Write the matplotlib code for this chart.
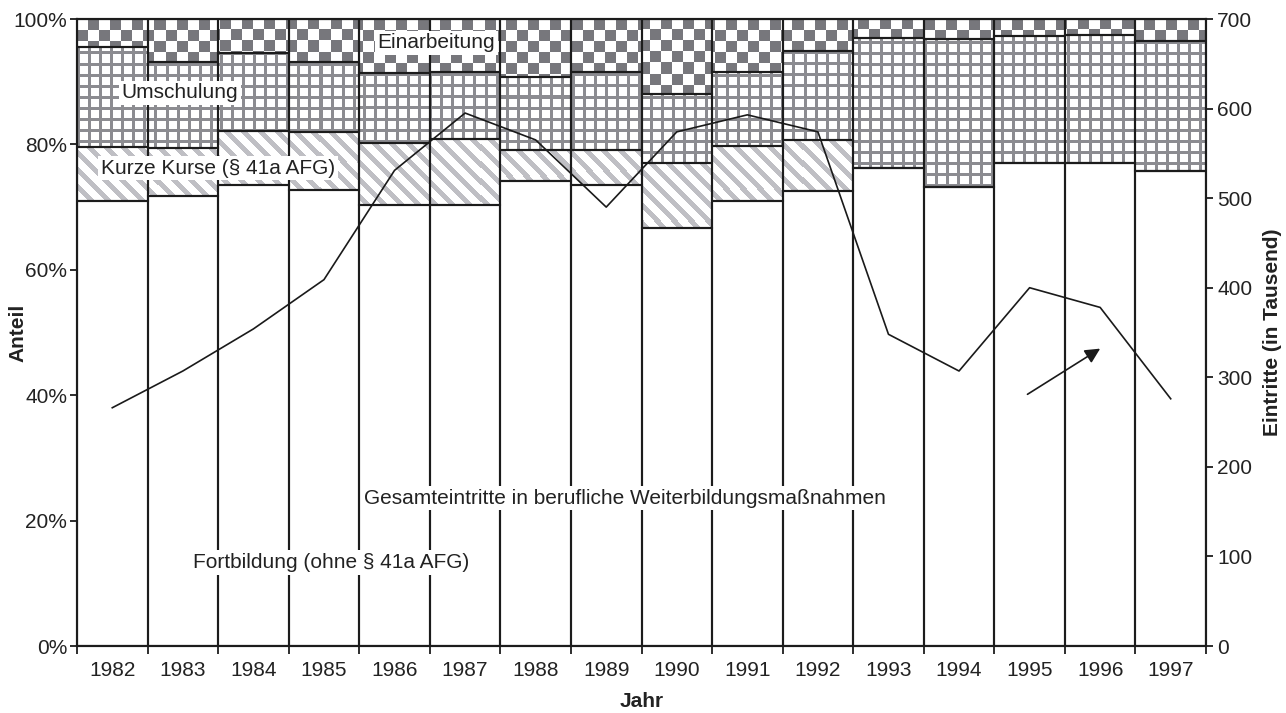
import numpy as np
import matplotlib
matplotlib.use("Agg")
import matplotlib.pyplot as plt
from matplotlib.ticker import FuncFormatter, MultipleLocator

plt.rcParams['font.family'] = ['Liberation Sans', 'DejaVu Sans']

years = ['1982', '1983', '1984', '1985', '1986', '1987', '1988', '1989',
         '1990', '1991', '1992', '1993', '1994', '1995', '1996', '1997']
# shares in percent
fortbildung = [71.0, 71.7, 73.6, 72.7, 70.4, 70.3, 74.1, 73.5, 66.6, 70.9, 72.6, 76.3, 73.2, 77.1, 77.0, 75.8]
kurze_kurse = [8.6, 7.8, 8.6, 9.3, 9.8, 10.5, 5.0, 5.6, 10.4, 8.9, 8.1, 0, 0, 0, 0, 0]
umschulung = [16.0, 13.7, 12.3, 11.1, 11.2, 10.8, 11.7, 12.5, 11.0, 11.8, 14.2, 20.6, 23.6, 20.2, 20.4, 20.7]
einarbeitung = [4.4, 6.8, 5.5, 6.9, 8.6, 8.4, 9.2, 8.4, 12.0, 8.4, 5.1, 3.1, 3.2, 2.7, 2.6, 3.5]
# total entries (thousands)
eintritte = [266, 307, 354, 409, 531, 595, 565, 490, 574, 593, 574, 348, 307, 400, 378, 276]

W, H = 1286, 713
ax_l, ax_r, ax_t, ax_b = 77, 1206, 19, 646
fig = plt.figure(figsize=(W / 100, H / 100), dpi=100)
ax1 = fig.add_axes([ax_l / W, (H - ax_b) / H, (ax_r - ax_l) / W, (ax_b - ax_t) / H])

pw, ph = ax_r - ax_l, ax_b - ax_t
ii, jj = np.mgrid[0:ph, 0:pw]

def tex(mask, col):
    img = np.ones((ph, pw, 3))
    img[mask] = col
    return img

tex_checker = tex(((ii // 11 + jj // 11) % 2) == 1, (0.47, 0.47, 0.49))
tex_grid = tex((ii % 11 < 3) | (jj % 11 < 3), (0.55, 0.55, 0.57))
tex_diag = tex(((jj - ii) % 17) < 7, (0.75, 0.75, 0.77))

x = np.arange(len(years))
n = len(years)
xlim = (-0.5, n - 0.5)
bottom = np.zeros(n)
edge = '#1c1c1c'
for vals, t in [(fortbildung, None), (kurze_kurse, tex_diag),
                (umschulung, tex_grid), (einarbeitung, tex_checker)]:
    vals = np.array(vals, dtype=float)
    bars = ax1.bar(x, vals, bottom=bottom, width=1.0, facecolor='none',
                   edgecolor=edge, linewidth=1.5, zorder=3)
    if t is not None:
        for b, v in zip(bars, vals):
            if v <= 0:
                continue
            im = ax1.imshow(t, extent=(xlim[0], xlim[1], 0, 100), origin='upper',
                            aspect='auto', interpolation='nearest', zorder=1)
            im.set_clip_path(b)
    bottom += vals

ax1.set_xlim(*xlim)
ax1.set_ylim(0, 100)
ax1.yaxis.set_major_locator(MultipleLocator(20))
ax1.yaxis.set_major_formatter(FuncFormatter(lambda v, p: f"{int(round(v))}%"))
ax1.set_xticks(x)
ax1.set_xticklabels(years)
ax1.set_xticks(np.arange(-0.5, n, 1.0), minor=True)
ax1.tick_params(axis='x', which='major', length=0, pad=11, labelsize=15, colors='#222222')
ax1.tick_params(axis='x', which='minor', length=6, width=1.3, color=edge, direction='out')
ax1.tick_params(axis='y', length=5, width=1.3, color=edge, pad=2, labelsize=15, labelcolor='#222222')
for s in ax1.spines.values():
    s.set_linewidth(1.5)
    s.set_color(edge)
ax1.set_ylabel('Anteil', fontsize=15, fontweight='bold', color='#222222', va='center')
ax1.yaxis.set_label_coords(-0.052, 0.5)
ax1.set_xlabel('Jahr', fontsize=15, fontweight='bold', color='#222222', va='center')
ax1.xaxis.set_label_coords(0.5, -0.0893)

ax2 = ax1.twinx()
ax2.plot(x, eintritte, color='#1a1a1a', linewidth=1.2, zorder=4)
ax2.set_ylim(0, 700)
ax2.set_xlim(*xlim)
ax2.yaxis.set_major_locator(MultipleLocator(100))
ax2.tick_params(axis='y', length=5, width=1.3, color=edge, pad=3, labelsize=15, labelcolor='#222222')
for s in ax2.spines.values():
    s.set_linewidth(1.5)
    s.set_color(edge)
ax2.set_ylabel('Eintritte (in Tausend)', fontsize=15, fontweight='bold', color='#222222',
               va='center', rotation=90)
ax2.yaxis.set_label_coords(1.0585, 0.5)

box = dict(facecolor='white', edgecolor='none', pad=2)
tk = dict(fontsize=15, color='#222222', ha='center', va='center', bbox=box,
          transform=ax1.transData, zorder=10)
ax2.text(4.59, 96.2, 'Einarbeitung', **tk)
ax2.text(0.96, 88.2, 'Umschulung', **tk)
ax2.text(1.50, 76.2, 'Kurze Kurse (§ 41a AFG)', **tk)
ax2.text(3.10, 13.3, 'Fortbildung (ohne § 41a AFG)', **tk)
ax2.text(7.27, 23.6, 'Gesamteintritte in berufliche Weiterbildungsmaßnahmen', **tk)

ax2.annotate('', xy=(14.0, 332), xytext=(12.97, 281),
             arrowprops=dict(arrowstyle='-|>,head_length=0.9,head_width=0.45',
                             color='#1a1a1a', lw=1.2, shrinkA=0, shrinkB=0),
             zorder=10)

fig.savefig('out.png', dpi=100)
